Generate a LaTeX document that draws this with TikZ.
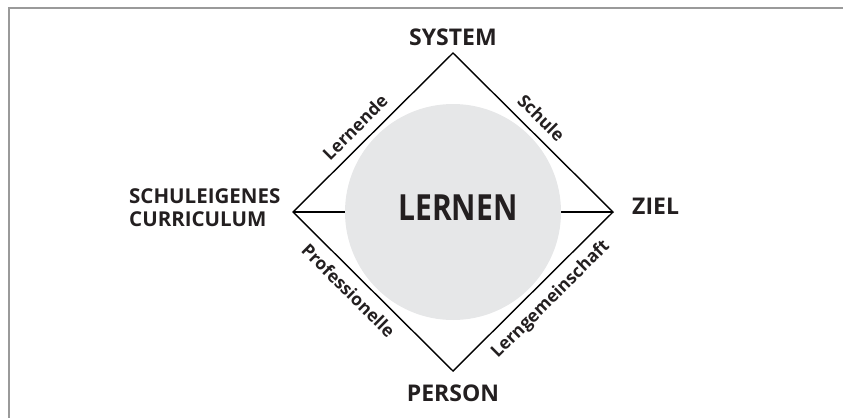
\documentclass[tikz,border=0pt]{standalone}
\usepackage{fontspec}
\setmainfont{Open Sans}
\definecolor{txt}{HTML}{231F20}
\definecolor{disc}{HTML}{E6E7E8}
\definecolor{frame}{HTML}{9A9A9A}
\begin{document}
\begin{tikzpicture}[x=1pt,y=-1pt,
  vlabel/.style={font=\fontsize{23}{25}\selectfont\bfseries, text=txt, inner sep=0pt},
  elabel/.style={font=\fontsize{17.5}{19}\selectfont\bfseries, text=txt, sloped, inner sep=0pt},
  edge/.style={line width=1.4pt, line join=miter}]
\useasboundingbox (0,0) rectangle (843,418);
\draw[frame, line width=1.5pt] (843,8) -- (9,8) -- (9,418);
\coordinate (T) at (453,53);
\coordinate (L) at (293,212);
\coordinate (R) at (613,212);
\coordinate (B) at (453,371);
\draw[edge] (L) -- (R);
\node[circle, fill=disc, minimum size=216pt, inner sep=0pt] (C) at (453,212) {};
\node[font=\fontsize{30}{32}\selectfont\bfseries, text=txt, inner sep=0pt, yscale=1.2, transform shape] (lernen) at (458,208) {LERNEN};
\draw[edge] (T) -- node[elabel, pos=0.48, above=9pt] (schule) {Schule} (R)
  -- node[elabel, pos=0.47, below=9pt] (lg) {Lerngemeinschaft} (B)
  -- node[elabel, pos=0.58, below=9pt] (prof) {Professionelle} (L)
  -- node[elabel, pos=0.46, above=9pt] (lernende) {Lernende} (T) -- cycle;
\node[vlabel] (system) at (453,37) {SYSTEM};
\node[vlabel, anchor=west] (ziel) at (632,206) {ZIEL};
\node[vlabel, anchor=west, align=left, font=\fontsize{20.5}{23}\selectfont\bfseries] (curr) at (129,208) {SCHULEIGENES\\CURRICULUM};
\node[vlabel] (person) at (453,393) {PERSON};
\end{tikzpicture}
\end{document}
